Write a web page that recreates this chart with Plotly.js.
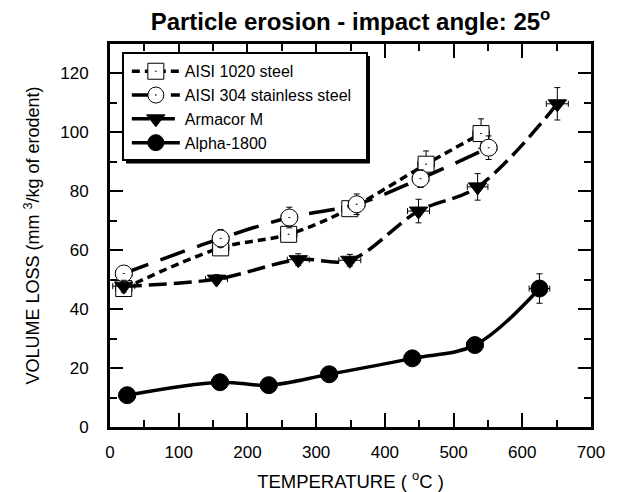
<!DOCTYPE html>
<html>
<head>
<meta charset="utf-8">
<script src="https://cdn.plot.ly/plotly-3.0.1.min.js"></script>
<style>html,body{margin:0;padding:0;background:#fff;}#chart{width:618px;height:492px;}</style>
</head>
<body>
<div id="chart"></div>
<script>
// ---- data ----
const seriesNames = ["AISI 1020 steel", "AISI 304 stainless steel", "Armacor M", "Alpha-1800"];

const tempAISI1020 = [20, 161, 260, 349, 460, 540];
const lossAISI1020 = [47.0, 60.8, 65.4, 74.1, 89.2, 99.6];
const errYAISI1020 = [1.5, 2, 2, 2, 4.5, 5];
const errXAISI1020 = [12, 12, 12, 12, 12, 12];

const tempAISI304 = [20, 161, 261, 359, 452, 551];
const lossAISI304 = [52.1, 64.0, 71.1, 75.6, 84.3, 94.8];
const errYAISI304 = [2, 3, 3.5, 3.5, 3, 4];
const errXAISI304 = [12, 12, 12, 12, 12, 12];

const tempArmacor = [20, 155, 274, 349, 449, 535, 651];
const lossArmacor = [47.8, 50.2, 56.8, 56.6, 73.3, 81.5, 109.7];
const errYArmacor = [2, 1.5, 2, 2, 4, 4.5, 5.5];
const errXArmacor = [16, 16, 16, 16, 16, 15, 16];

const tempAlpha = [25, 160, 231, 319, 440, 531, 625];
const lossAlpha = [10.8, 15.2, 14.2, 17.9, 23.3, 27.8, 47.0];
const errYAlpha = [1, 1, 1, 1, 1, 1.5, 5];
const errXAlpha = [12, 12, 12, 12, 12, 12, 15];

const xTickVals = [0, 100, 200, 300, 400, 500, 600, 700];
const yTickVals = [0, 20, 40, 60, 80, 100, 120];

function errs(arrY, arrX) {
  return {
    error_y: {type: 'data', array: arrY, visible: true, color: 'black', thickness: 1, width: 3},
    error_x: {type: 'data', array: arrX, visible: true, color: 'black', thickness: 1, width: 3}
  };
}

const traces = [
  Object.assign({
    x: tempAISI1020, y: lossAISI1020, name: seriesNames[0], type: 'scatter', mode: 'lines+markers',
    line: {color: 'black', width: 3.5, dash: '8px,5px', shape: 'spline', smoothing: 1},
    marker: {symbol: 'square-dot', size: 16, color: 'white', line: {color: 'black', width: 1}}
  }, errs(errYAISI1020, errXAISI1020)),
  Object.assign({
    x: tempAISI304, y: lossAISI304, name: seriesNames[1], type: 'scatter', mode: 'lines+markers',
    line: {color: 'black', width: 3.5, dash: '26px,13px', shape: 'spline', smoothing: 1},
    marker: {symbol: 'circle-dot', size: 17, color: 'white', line: {color: 'black', width: 1}}
  }, errs(errYAISI304, errXAISI304)),
  Object.assign({
    x: tempArmacor, y: lossArmacor, name: seriesNames[2], type: 'scatter', mode: 'lines+markers',
    line: {color: 'black', width: 3.5, dash: '18px,7px', shape: 'spline', smoothing: 1},
    marker: {symbol: 'triangle-down', size: 16, color: 'black', line: {color: 'black', width: 1}}
  }, errs(errYArmacor, errXArmacor)),
  Object.assign({
    x: tempAlpha, y: lossAlpha, name: seriesNames[3], type: 'scatter', mode: 'lines+markers',
    line: {color: 'black', width: 3.5, shape: 'spline', smoothing: 1},
    marker: {symbol: 'circle', size: 17, color: 'black', line: {color: 'black', width: 1}}
  }, errs(errYAlpha, errXAlpha))
];

const fontFam = 'Liberation Sans, Arial, sans-serif';

const layout = {
  width: 618, height: 492,
  margin: {l: 110, r: 27, t: 44, b: 65},
  paper_bgcolor: 'white', plot_bgcolor: 'white',
  font: {family: fontFam, color: 'black', size: 17},
  title: {
    text: 'Particle erosion - impact angle: 25<sup>o</sup>',
    font: {family: fontFam, size: 24, weight: 'bold', color: 'black'},
    x: 0.5, xref: 'paper', xanchor: 'center',
    y: 13, yref: 'container', yanchor: 'middle'
  },
  showlegend: true,
  legend: {
    x: 0.035, y: 0.973, xanchor: 'left', yanchor: 'top',
    bgcolor: 'rgba(0,0,0,0)', borderwidth: 0,
    itemwidth: 48,
    font: {family: fontFam, size: 16, color: 'black'}
  },
  shapes: [
    {type: 'rect', xref: 'paper', yref: 'paper', layer: 'above',
     x0: 0.0333, x1: 0.5405, y0: 0.688, y1: 0.9687,
     fillcolor: 'black', line: {width: 0}},
    {type: 'rect', xref: 'paper', yref: 'paper', layer: 'above',
     x0: 0.027, x1: 0.5343, y0: 0.6971, y1: 0.9765,
     fillcolor: 'white', line: {color: 'black', width: 2}}
  ],
  xaxis: {
    range: [0, 700], tickvals: xTickVals, ticktext: xTickVals.map(String),
    ticks: 'inside', ticklen: 14, tickwidth: 2, tickcolor: 'black',
    minor: {dtick: 50, tick0: 0, ticks: 'inside', ticklen: 7, tickwidth: 2, tickcolor: 'black'},
    showline: true, linecolor: 'black', linewidth: 3, mirror: 'ticks',
    showgrid: false, zeroline: false,
    tickfont: {family: fontFam, size: 17},
    ticklabelstandoff: 8,
    title: {text: 'TEMPERATURE ( <sup>o</sup>C )', font: {family: fontFam, size: 18.5}, standoff: 16}
  },
  yaxis: {
    range: [0, 130], tickvals: yTickVals, ticktext: yTickVals.map(String),
    ticks: 'inside', ticklen: 13, tickwidth: 2, tickcolor: 'black',
    minor: {dtick: 10, tick0: 0, ticks: 'inside', ticklen: 7, tickwidth: 2, tickcolor: 'black'},
    showline: true, linecolor: 'black', linewidth: 3, mirror: 'ticks',
    showgrid: false, zeroline: false,
    tickfont: {family: fontFam, size: 17},
    ticklabelstandoff: 15,
    title: {text: 'VOLUME LOSS (mm <sup>3</sup>/kg of erodent)', font: {family: fontFam, size: 18}, standoff: 16}
  }
};

Plotly.newPlot('chart', traces, layout, {displayModeBar: false, staticPlot: true});
</script>
</body>
</html>
